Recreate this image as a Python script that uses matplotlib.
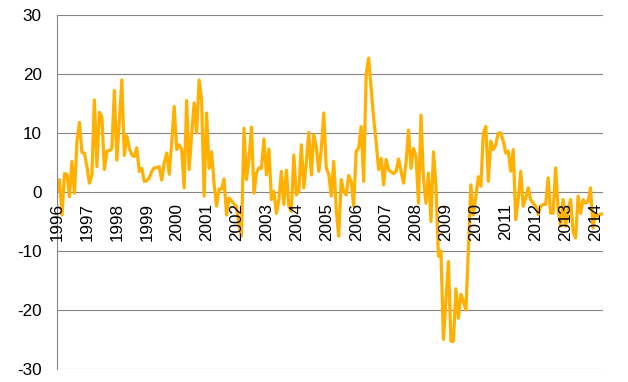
import matplotlib
matplotlib.use("Agg")
import matplotlib.pyplot as plt
import matplotlib.transforms as mtransforms
import numpy as np

plt.rcParams['font.family'] = ['Liberation Sans', 'DejaVu Sans']

# monthly values, one list per year (Jan..Dec)
v1996 = [0.0, 2.1, -3.9, 3.1, 3.0, -0.8, 5.2, -0.2, 8.5, 11.8, 6.7, 6.6]
v1997 = [4.3, 1.5, 2.9, 15.6, 4.3, 13.5, 12.8, 3.8, 6.9, 7.0, 7.4, 17.2]
v1998 = [5.4, 12.0, 19.0, 6.2, 9.5, 7.4, 6.3, 6.0, 7.5, 3.5, 4.0, 1.8]
v1999 = [1.9, 2.4, 3.5, 4.1, 4.1, 4.3, 2.0, 4.9, 6.6, 3.0, 8.3, 14.5]
v2000 = [7.2, 8.0, 7.2, 0.7, 15.5, 3.8, 9.7, 15.1, 10.0, 19.0, 15.6, -0.7]
v2001 = [13.4, 4.0, 6.8, 1.5, -2.4, 0.5, 0.5, 2.2, -3.9, -1.0, -1.5, -2.0]
v2002 = [-2.5, -5.5, -7.5, 10.8, 2.1, 5.5, 11.0, -0.2, 3.2, 4.1, 4.0, 9.0]
v2003 = [2.9, 7.3, -1.3, 0.1, -3.6, -1.3, 3.5, -2.1, 3.7, -2.4, -3.3, 6.3]
v2004 = [-0.5, 0.1, 8.0, 0.7, 5.0, 10.1, 2.9, 9.7, 7.7, 3.5, 7.2, 13.4]
v2005 = [4.1, 3.0, -0.7, 5.2, -3.0, -7.5, 2.1, 0.1, -0.5, 2.8, 1.8, -2.4]
v2006 = [6.9, 7.5, 11.1, 1.8, 20.0, 22.7, 17.5, 12.5, 8.5, 3.8, 5.7, 1.2]
v2007 = [5.5, 3.8, 3.4, 3.1, 3.5, 5.6, 3.5, 1.5, 5.0, 10.5, 4.0, 7.4]
v2008 = [6.0, -1.9, 13.0, 2.1, -1.9, 3.2, -5.0, 6.8, 1.0, -10.9, -10.0, -25.0]
v2009 = [-18.5, -11.8, -25.3, -25.3, -16.4, -21.4, -17.3, -18.5, -20.0, -9.8, 1.2, -3.9]
v2010 = [-0.8, 2.6, 1.0, 10.0, 11.1, 1.8, 8.6, 7.2, 8.0, 10.0, 10.0, 8.6]
v2011 = [6.6, 6.9, 3.5, 7.2, -4.7, -1.3, 3.5, -2.4, -1.0, 0.7, -1.3, -1.9]
v2012 = [-2.4, -3.8, -2.4, -2.1, -2.1, 2.4, -3.6, -3.6, 4.1, -3.0, -5.8, -1.3]
v2013 = [-5.8, -3.0, -1.3, -6.7, -7.8, -0.7, -3.6, -1.3, -1.9, -1.6, 0.7, -6.1]
v2014 = [-3.6, -4.1, -3.8, -3.6]

years = [str(y) for y in range(1996, 2015)]
y_ticks = [30, 20, 10, 0, -10, -20, -30]
y_labels = ['30', '20', '10', '0', '-10', '-20', '-30']

values = np.array(v1996 + v1997 + v1998 + v1999 + v2000 + v2001 + v2002 +
                  v2003 + v2004 + v2005 + v2006 + v2007 + v2008 + v2009 +
                  v2010 + v2011 + v2012 + v2013 + v2014)
months = np.arange(len(values))

W, H = 628, 382
fig = plt.figure(figsize=(W / 100, H / 100), dpi=100)
ax = fig.add_axes([57 / W, 1 - 369 / H, (603 - 57) / W, (369 - 15) / H])

grid_color = '#868686'
for v in y_ticks:
    ax.axhline(v, color=grid_color, lw=0.8, zorder=1)

ax.plot(months, values, color='#FFB000', lw=2.3, zorder=2,
        solid_joinstyle='round', solid_capstyle='butt')

ax.set_xlim(0, len(values) - 1)
ax.set_ylim(-30, 30)

for s in ['top', 'right', 'bottom']:
    ax.spines[s].set_visible(False)
ax.spines['left'].set_color(grid_color)
ax.spines['left'].set_linewidth(0.8)

ax.set_xticks([])
ax.set_yticks(y_ticks)
ax.set_yticklabels(y_labels, fontsize=12.3, color='black')
ax.tick_params(axis='y', length=0, pad=11)

offset = mtransforms.offset_copy(ax.transData, fig=fig, x=0, y=-11, units='dots')
for k, lab in enumerate(years):
    ax.text(12 * k, 0, lab, transform=offset, rotation=90, ha='center',
            va='top', fontsize=12.3, color='black', zorder=5, clip_on=False)

fig.savefig('out.png', dpi=100)
